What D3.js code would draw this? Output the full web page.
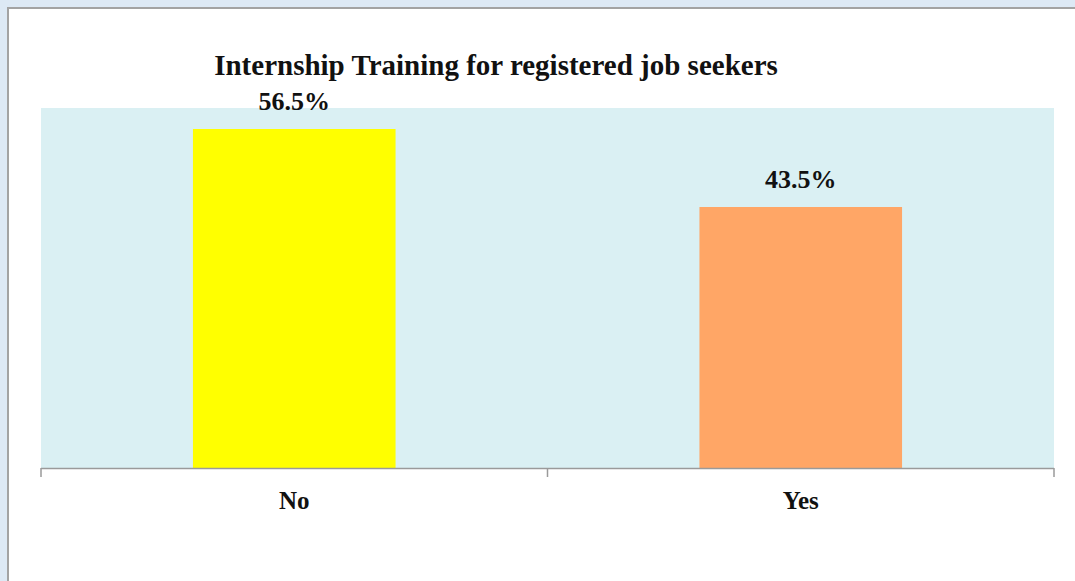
<!DOCTYPE html>
<html>
<head>
<meta charset="utf-8">
<script src="https://cdn.jsdelivr.net/npm/d3@7"></script>
<style>
  html, body { margin: 0; padding: 0; background: #dde9f5; }
  svg { display: block; }
</style>
</head>
<body>
<svg id="chart" width="1075" height="581"></svg>
<script>
// Survey responses: internship training among registered job seekers
const categories = ["No", "Yes"];
const shares = [56.5, 43.5];
const barColors = ["#ffff00", "#ffa666"];
const chartTitle = "Internship Training for registered job seekers";

const svg = d3.select("#chart");
const W = 1075, H = 581;
const font = "'Liberation Serif', 'DejaVu Serif', serif";

// White panel with a grey frame on the left/top
svg.append("rect")
  .attr("x", 8).attr("y", 8).attr("width", W).attr("height", H)
  .attr("fill", "#ffffff").attr("stroke", "#a3a3a3").attr("stroke-width", 2);

const plot = { left: 41, right: 1054, top: 108, bottom: 468 };

const x = d3.scaleBand()
  .domain(categories)
  .range([plot.left, plot.right])
  .paddingInner(0.6)
  .paddingOuter(0.3);

const y = d3.scaleLinear()
  .domain([0, 60])
  .range([plot.bottom, plot.top]);

// Plot background
svg.append("rect")
  .attr("x", plot.left).attr("y", plot.top)
  .attr("width", plot.right - plot.left).attr("height", plot.bottom - plot.top)
  .attr("fill", "#daf0f3");

// Bars
svg.selectAll("rect.bar")
  .data(categories)
  .join("rect")
  .attr("class", "bar")
  .attr("x", d => x(d))
  .attr("width", x.bandwidth())
  .attr("y", (d, i) => y(shares[i]))
  .attr("height", (d, i) => y(0) - y(shares[i]))
  .attr("fill", (d, i) => barColors[i]);

// Value labels
svg.selectAll("text.val")
  .data(categories)
  .join("text")
  .attr("class", "val")
  .attr("x", d => x(d) + x.bandwidth() / 2)
  .attr("y", (d, i) => y(shares[i]) - 19)
  .attr("text-anchor", "middle")
  .attr("font-family", font)
  .attr("font-weight", "bold")
  .attr("font-size", 26)
  .attr("fill", "#111")
  .text((d, i) => shares[i].toFixed(1) + "%");

// Category axis with ticks at category boundaries
const axisG = svg.append("g");
axisG.append("line")
  .attr("x1", plot.left).attr("x2", plot.right)
  .attr("y1", plot.bottom + 0.5).attr("y2", plot.bottom + 0.5)
  .attr("stroke", "#9a9a9a").attr("stroke-width", 1.5);
const bounds = d3.range(categories.length + 1).map(i => plot.left + i * (plot.right - plot.left) / categories.length);
axisG.selectAll("line.tick")
  .data(bounds)
  .join("line")
  .attr("class", "tick")
  .attr("x1", d => d).attr("x2", d => d)
  .attr("y1", plot.bottom).attr("y2", plot.bottom + 9)
  .attr("stroke", "#9a9a9a").attr("stroke-width", 1.5);

axisG.selectAll("text.cat")
  .data(categories)
  .join("text")
  .attr("class", "cat")
  .attr("x", d => x(d) + x.bandwidth() / 2)
  .attr("y", 509)
  .attr("text-anchor", "middle")
  .attr("font-family", font)
  .attr("font-weight", "bold")
  .attr("font-size", 25)
  .attr("fill", "#111")
  .text(d => d);

// Title
svg.append("text")
  .attr("x", 496)
  .attr("y", 75)
  .attr("text-anchor", "middle")
  .attr("font-family", font)
  .attr("font-weight", "bold")
  .attr("font-size", 29)
  .attr("fill", "#111")
  .text(chartTitle);
</script>
</body>
</html>
